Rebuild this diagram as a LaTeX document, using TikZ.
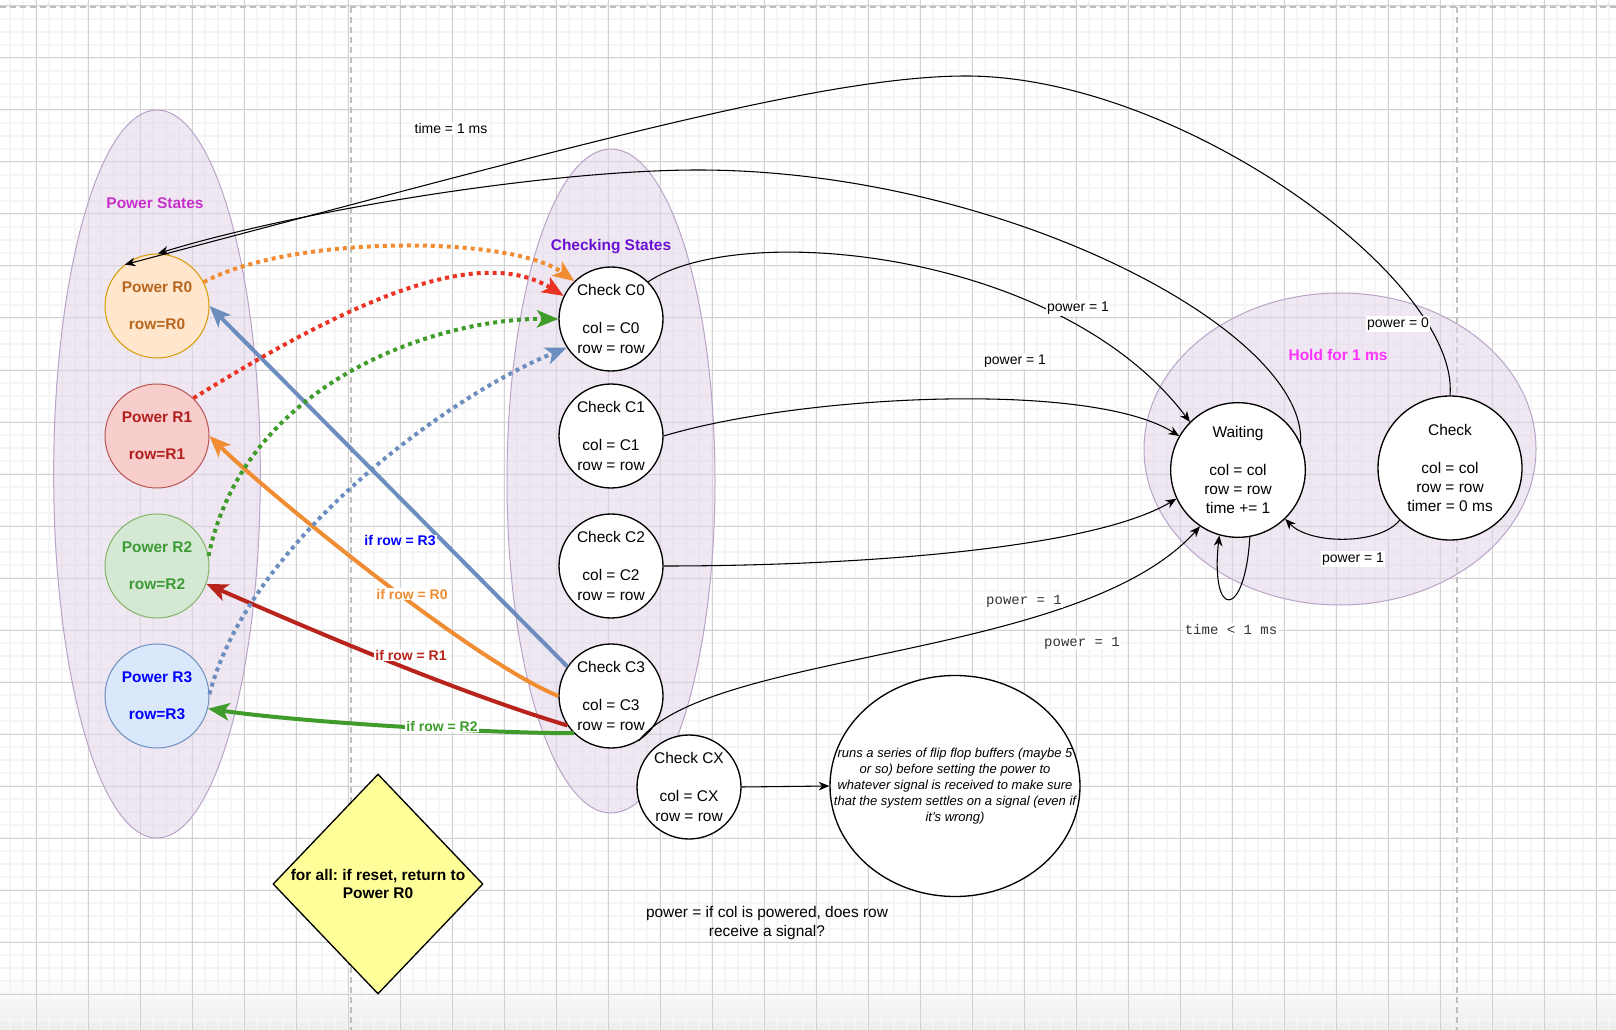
\documentclass[tikz,border=0pt]{standalone}
\usepackage{fontspec}
\setmainfont{Liberation Sans}
\setmonofont{Liberation Mono}
\usepackage{tikz}
\usetikzlibrary{arrows.meta}
\usetikzlibrary{shapes.geometric}
\usetikzlibrary{positioning}
\definecolor{r0fill}{HTML}{FFE6CC}
\definecolor{r0line}{HTML}{D79B00}
\definecolor{r0text}{HTML}{B9671F}
\definecolor{r1fill}{HTML}{F8CECC}
\definecolor{r1line}{HTML}{B85450}
\definecolor{r1text}{HTML}{B21F1F}
\definecolor{r2fill}{HTML}{D5E8D4}
\definecolor{r2line}{HTML}{82B366}
\definecolor{r2text}{HTML}{3D9B35}
\definecolor{r3fill}{HTML}{DAE8FC}
\definecolor{r3line}{HTML}{6C8EBF}
\definecolor{r3text}{HTML}{0000FF}
\definecolor{grpfill}{HTML}{E1D5E7}
\definecolor{grpline}{HTML}{B9A3C8}
\definecolor{ttlpower}{HTML}{C72FCC}
\definecolor{ttlcheck}{HTML}{6A10D4}
\definecolor{ttlhold}{HTML}{FF33FF}
\definecolor{arblue}{HTML}{6C8EBF}
\definecolor{arorange}{HTML}{F08C32}
\definecolor{arred}{HTML}{B8231C}
\definecolor{argreen}{HTML}{3F9C2A}
\definecolor{dotred}{HTML}{EA3323}
\definecolor{resetfill}{HTML}{FFFF99}
\tikzset{
  basefont/.style = {font=\fontsize{11.6}{14.5}\selectfont},
  grid_minor/.style = {line width=1.4pt, black!4},
  grid_major/.style = {line width=0.75pt, black!18},
  page_edge/.style = {line width=1.1pt, black!25, dash pattern=on 4.5pt off 3pt},
  grp_ell/.style = {ellipse, draw=grpline, fill=grpfill, fill opacity=.55,
    line width=0.75pt, inner sep=0pt},% group of states
  grp_ttl/.style = {font=\fontsize{11.6}{14.5}\selectfont\bfseries},
  st_pwr/.style = {circle, align=center, inner sep=0pt, minimum size=78pt,
    line width=0.75pt, font=\fontsize{11.6}{14.5}\selectfont\bfseries},% power state
  st_chk/.style = {circle, align=center, inner sep=0pt, minimum size=78pt,
    draw=black, fill=white, line width=1pt, basefont},% checking state
  thick_arrow/.style = {line width=3pt, -{Stealth[length=16pt,width=13pt,inset=4pt]}},
  dot_arrow/.style = {thick_arrow, line width=3pt, dash pattern=on 3pt off 3pt},
  edge_black/.style = {line width=0.8pt, -{Stealth[length=8pt,width=6.5pt,inset=2.5pt]}},
  lbl/.style = {fill=white, inner sep=1pt, font=\fontsize{10.5}{12.6}\selectfont},
  lbl_row/.style = {lbl, font=\fontsize{10.5}{12.6}\selectfont\bfseries},
  lbl_mono/.style = {fill=white, inner sep=1pt, text=black!80,
    font=\fontsize{10.5}{12.6}\selectfont\ttfamily}
}

\begin{document}
\frenchspacing
\begin{tikzpicture}[x=0.75pt,y=-0.75pt]
\useasboundingbox (0,0) rectangle (1616,1030);
% background grid
\shade [top color=white, bottom color=black!7] (0,975) rectangle (1616,1030);
\foreach \gx in {10,23,...,1616} \draw [grid_minor] (\gx,0) -- (\gx,1030);
\foreach \gy in {6,19,...,1030} \draw [grid_minor] (0,\gy) -- (1616,\gy);
\foreach \gx in {36,88,...,1616} \draw [grid_major] (\gx,0) -- (\gx,1030);
\foreach \gy in {6,58,...,1030} \draw [grid_major] (0,\gy) -- (1616,\gy);
\draw [page_edge] (0,7) -- (1616,7);
\draw [page_edge] (351,7) -- (351,1030);
\draw [page_edge] (1457,7) -- (1457,1030);

% groups
\node [grp_ell, minimum width=155pt, minimum height=546pt] (pwr_grp) at (157,474) {};
\node [grp_ell, minimum width=156pt, minimum height=498pt] (chk_grp) at (611,481) {};
\node [grp_ell, minimum width=294pt, minimum height=234pt] (hold_grp) at (1340,449) {};
\node [grp_ttl, text=ttlpower] (pwr_ttl) at (155,203) {Power States};
\node [grp_ttl, text=ttlcheck] (chk_ttl) at (611,247) {Checking States};
\node [grp_ttl, text=ttlhold] (hold_ttl) at (1338,355) {Hold for 1 ms};

% power states
\node [st_pwr, fill=r0fill, draw=r0line, text=r0text] (r0) at (157,306) {Power R0\\[13pt]row=R0};
\node [st_pwr, fill=r1fill, draw=r1line, text=r1text] (r1) at (157,436) {Power R1\\[13pt]row=R1};
\node [st_pwr, fill=r2fill, draw=r2line, text=r2text] (r2) at (157,566) {Power R2\\[13pt]row=R2};
\node [st_pwr, fill=r3fill, draw=r3line, text=r3text] (r3) at (157,696) {Power R3\\[13pt]row=R3};

% checking states
\node [st_chk] (c0) at (611,319) {Check C0\\[14pt]col = C0\\row = row};
\node [st_chk] (c1) at (611,436) {Check C1\\[14pt]col = C1\\row = row};
\node [st_chk] (c2) at (611,566) {Check C2\\[14pt]col = C2\\row = row};
\node [st_chk] (c3) at (611,696) {Check C3\\[14pt]col = C3\\row = row};
\node [st_chk] (cx) at (689,787) {Check CX\\[14pt]col = CX\\row = row};
\node [st_chk, minimum size=101pt] (waiting) at (1238,470) {Waiting\\[14pt]col = col\\row = row\\time += 1};
\node [st_chk, minimum size=108pt] (checking) at (1450,468) {Check\\[14pt]col = col\\row = row\\timer = 0 ms};

\node [ellipse, draw, fill=white, line width=1pt, minimum width=187.5pt, minimum height=165.75pt,
  inner sep=0pt] (buffer) at (955,786) {};
\node at (buffer) [align=center, font=\fontsize{9.75}{12}\selectfont\itshape] (buffer_txt)
  {runs a series of flip flop buffers (maybe 5\\or so) before setting the power to\\whatever signal is received to make sure\\that the system settles on a signal (even if\\it's wrong)};
\node [diamond, draw, fill=resetfill, line width=1pt, minimum width=157.5pt, minimum height=165pt,
  inner sep=0pt] (reset) at (378,884) {};
\node at (reset) [align=center, font=\fontsize{11.6}{13.5}\selectfont\bfseries] (reset_txt)
  {for all: if reset, return to\\Power R0};
\node [basefont, align=center] (power_note) at (767,923) {power = if col is powered, does row\\receive a signal?};

% row found: back to the power states
\draw [thick_arrow, draw=arblue] (c3.146) -- (r0.0);
\draw [thick_arrow, draw=arorange] (c3.180) .. controls (470,660) and (261,487) .. (r1.0);
\draw [thick_arrow, draw=arred] (c3.214) .. controls (450,690) and (300,625) .. (r2.340);
\draw [thick_arrow, draw=argreen] (c3.225) .. controls (480,733) and (300,722) .. (r3.346);

% power states to first check
\draw [dot_arrow, draw=arorange] (r0.27) .. controls (290,235) and (510,235) .. (c0.134);
\draw [dot_arrow, draw=dotred] (r1.46) .. controls (348,302) and (478,243) .. (c0.154);
\draw [dot_arrow, draw=argreen] (r2.11) .. controls (245,380) and (440,318) .. (c0.180);
\draw [dot_arrow, draw=arblue] (r3.2) .. controls (250,540) and (450,395) .. (c0.213);

% checks to hold
\draw [edge_black] (c0.45) .. controls (740,220) and (1060,250) .. (waiting.135);
\draw [edge_black] (c1.0) .. controls (800,395) and (1090,380) .. (waiting.150);
\draw [edge_black] (c2.0) .. controls (850,566) and (1090,550) .. (waiting.205);
\draw [edge_black] (c3.302) .. controls (710,650) and (1080,660) .. (waiting.236);

\coordinate (wait_top) at (698,170);
\coordinate (check_top) at (966,76);
\draw [edge_black] (waiting.23) .. controls (1308,330) and (1000,170) .. (wait_top)
  .. controls (550,170) and (300,210) .. (r0.89);
\draw [edge_black] (checking.90) .. controls (1460,280) and (1180,76) .. (check_top)
  .. controls (820,76) and (560,150) .. (r0.128);
\draw [edge_black] (checking.226) .. controls (1380,545) and (1310,545) .. (waiting.314);
\draw [edge_black] (waiting.280) .. controls (1245,620) and (1210,620) .. (waiting.254);
\draw [edge_black] (cx.0) -- (buffer.180);

% labels
\node [lbl_row, text=r3text] (l_r3) at (400,541) {if row = R3};
\node [lbl_row, text=arorange] (l_r0) at (412,594) {if row = R0};
\node [lbl_row, text=arred] (l_r1) at (411,655) {if row = R1};
\node [lbl_row, text=argreen] (l_r2) at (442,726) {if row = R2};
\node [lbl] (l_time) at (451,128) {time = 1 ms};
\node [lbl] (l_c0) at (1078,308) {power = 1};
\node [lbl] (l_c1) at (1015,361) {power = 1};
\node [lbl] (l_off) at (1398,324) {power = 0};
\node [lbl] (l_on) at (1353,559) {power = 1};
\node [lbl_mono] (l_c2) at (1024,601) {power = 1};
\node [lbl_mono] (l_c3) at (1082,643) {power = 1};
\node [lbl_mono] (l_loop) at (1231,629) {time < 1 ms};
\end{tikzpicture}
\end{document}
